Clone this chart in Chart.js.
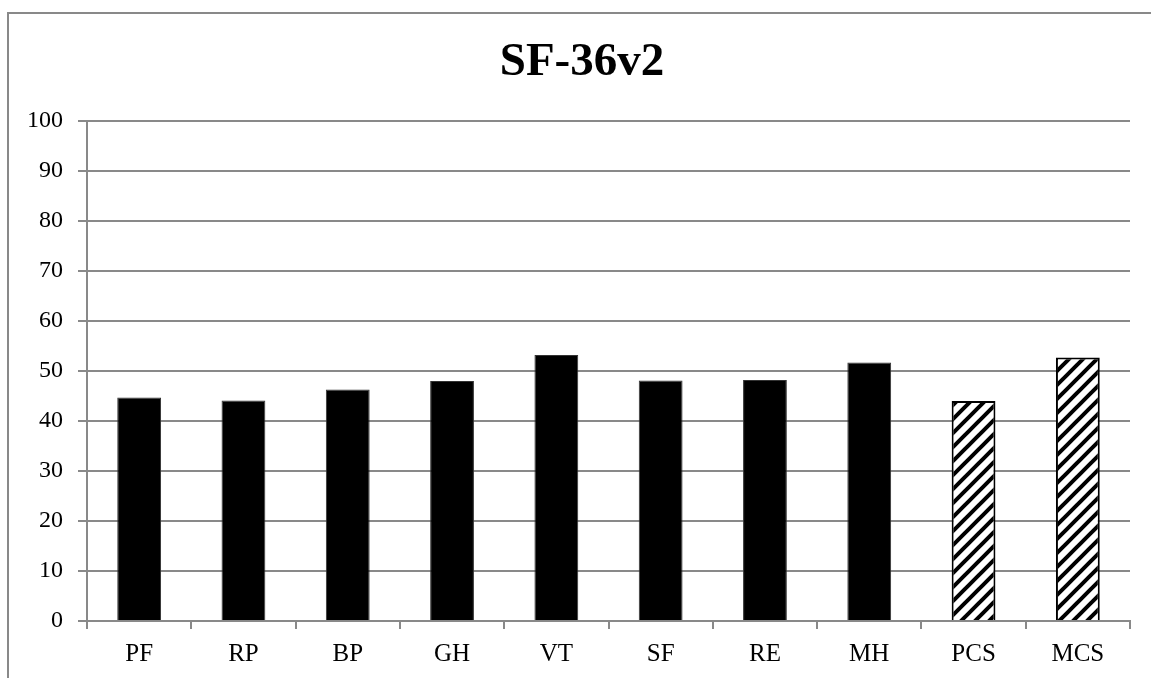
<!doctype html>
<html lang="en">
<head>
  <meta charset="utf-8">
  <title>SF-36v2</title>
  <style>
    * {
      margin: 0;
      padding: 0;
    }
    body {
      background: #fff;
    }
    .chartBox {
      width: 1151px;
      height: 678px;
      position: relative;
    }
  </style>
</head>
<body>
<div class="chartBox">
  <canvas id="myChart"></canvas>
</div>
<script src="https://cdn.jsdelivr.net/npm/chart.js"></script>
<script>
  // data
  const scales = ['PF', 'RP', 'BP', 'GH', 'VT', 'SF', 'RE', 'MH', 'PCS', 'MCS'];
  const scores = [44.7, 44.1, 46.3, 48.0, 53.2, 48.1, 48.2, 51.7, 44.0, 52.7];
  const summaryScales = ['PCS', 'MCS'];  // these get the hatched fill
  const yTicks = [0, 10, 20, 30, 40, 50, 60, 70, 80, 90, 100];
  const chartTitle = 'SF-36v2';

  const grey = '#898989';
  const serif = "'Liberation Serif', 'Times New Roman', serif";

  // diagonal hatch for the summary scores
  function makeHatch() {
    const size = 14;
    const c = document.createElement('canvas');
    c.width = size;
    c.height = size;
    const g = c.getContext('2d');
    g.fillStyle = '#fff';
    g.fillRect(0, 0, size, size);
    g.strokeStyle = '#000';
    g.lineWidth = 4;
    g.beginPath();
    // lines x + y = 0, size, 2*size so the tile joins up
    for (let k = 0; k <= 2; k++) {
      const d = k * size;
      g.moveTo(d + size, -size);
      g.lineTo(d - size * 2, size * 2);
    }
    g.stroke();
    return g.createPattern(c, 'repeat');
  }
  const hatch = makeHatch();

  const fills = scales.map(s => summaryScales.includes(s) ? hatch : '#000');
  const borders = scales.map(s => summaryScales.includes(s) ? '#000' : '#333');
  const borderWidths = scales.map(s => summaryScales.includes(s) ? 2 : 1);

  // grey frame along the top and left, and the title (the original centres
  // it a bit right of the canvas middle, so it is drawn here by hand)
  const framePlugin = {
    id: 'frame',
    beforeDraw(chart) {
      const ctx = chart.ctx;
      ctx.save();
      ctx.strokeStyle = grey;
      ctx.lineWidth = 2;
      ctx.beginPath();
      ctx.moveTo(8, chart.height);
      ctx.lineTo(8, 13);
      ctx.lineTo(chart.width, 13);
      ctx.stroke();

      ctx.fillStyle = '#000';
      ctx.font = 'bold 47px ' + serif;
      ctx.textAlign = 'center';
      ctx.textBaseline = 'middle';
      ctx.fillText(chartTitle, 582, 63);
      ctx.restore();
    }
  };

  const data = {
    labels: scales,
    datasets: [{
      label: chartTitle,
      data: scores,
      backgroundColor: fills,
      borderColor: borders,
      borderWidth: borderWidths,
      barPercentage: 0.42,
      categoryPercentage: 1
    }]
  };

  const config = {
    type: 'bar',
    data,
    options: {
      responsive: false,
      animation: false,
      layout: {
        padding: {left: 0, right: 21, top: 121, bottom: 0}
      },
      plugins: {
        legend: {display: false},
        tooltip: {enabled: false},
        title: {display: false}
      },
      scales: {
        x: {
          grid: {
            display: true,
            drawOnChartArea: false,
            drawTicks: true,
            tickLength: 8,
            color: grey,
            lineWidth: 2,
            offset: true
          },
          border: {color: grey, width: 2},
          ticks: {
            color: '#000',
            font: {family: serif, size: 25},
            padding: 10
          },
          afterFit(scale) {
            scale.height = 57;
          }
        },
        y: {
          min: 0,
          max: 100,
          afterBuildTicks(scale) {
            scale.ticks = yTicks.map(v => ({value: v}));
          },
          grid: {
            color: grey,
            lineWidth: 2,
            drawTicks: true,
            tickLength: 9
          },
          border: {color: grey, width: 2},
          ticks: {
            color: '#000',
            font: {family: serif, size: 24},
            padding: 15
          },
          afterFit(scale) {
            scale.width = 87;
          }
        }
      }
    },
    plugins: [framePlugin]
  };

  const canvas = document.getElementById('myChart');
  canvas.width = 1151;
  canvas.height = 678;
  const myChart = new Chart(canvas, config);
</script>
</body>
</html>
